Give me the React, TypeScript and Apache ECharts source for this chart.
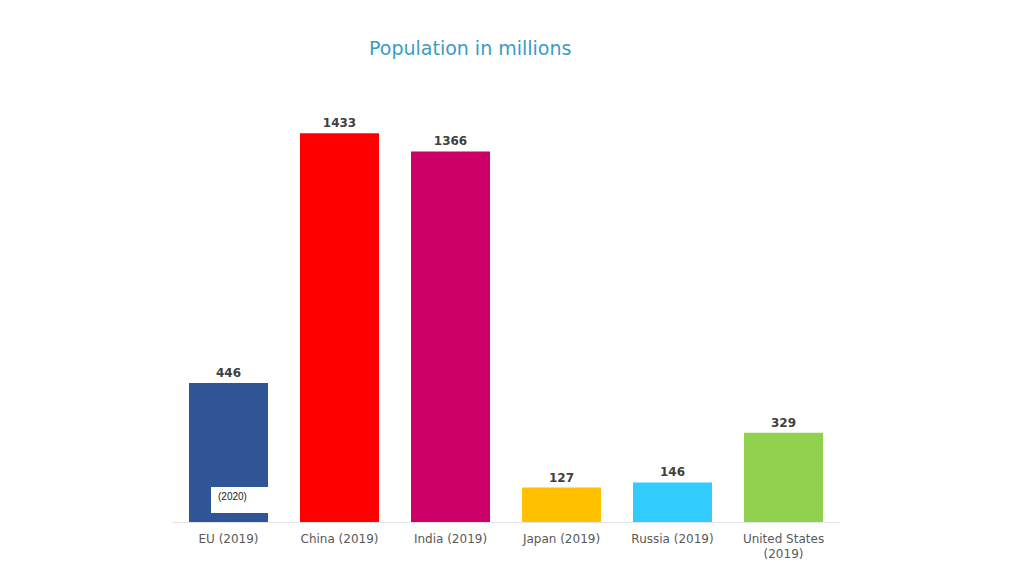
import React, { useEffect, useRef } from "react";
import * as echarts from "echarts";

const categories = ["EU (2019)", "China (2019)", "India (2019)", "Japan (2019)", "Russia (2019)", "United States\n(2019)"];
const barValues = [512, 1433, 1366, 127, 146, 329];
const labelTexts = ["446", "1433", "1366", "127", "146", "329"];
const barColors = ["#2F5597", "#FF0000", "#CC0066", "#FFC000", "#33CCFF", "#92D050"];

export default function App() {
  const ref = useRef<HTMLDivElement>(null);
  useEffect(() => {
    if (!ref.current) return;
    const chart = echarts.init(ref.current, null, { renderer: "svg" });
    const font = "'DejaVu Sans', Verdana, sans-serif";
    chart.setOption({
      animation: false,
      backgroundColor: "#ffffff",
      title: {
        text: "Population in millions",
        left: 364,
        top: 33,
        textStyle: { color: "#3A9CC3", fontSize: 19, fontWeight: "normal", fontFamily: font },
      },
      grid: { left: 173, right: 185, top: 88, bottom: 54 },
      xAxis: {
        type: "category",
        data: categories,
        axisLine: { show: true, lineStyle: { color: "#E3E3E3", width: 1 } },
        axisTick: { show: false },
        axisLabel: { color: "#595959", fontSize: 12, fontFamily: font, margin: 9, lineHeight: 15, interval: 0 },
      },
      yAxis: {
        type: "value",
        min: 0,
        max: 1600,
        show: false,
        splitLine: { show: false },
      },
      series: [
        {
          type: "bar",
          barWidth: 79,
          data: barValues.map((v, i) => ({ value: v, itemStyle: { color: barColors[i] } })),
          label: {
            show: true,
            position: "top",
            distance: 4,
            color: "#404040",
            fontSize: 12,
            fontWeight: "bold",
            fontFamily: font,
            formatter: (p: any) => labelTexts[p.dataIndex],
          },
        },
      ],
      graphic: [
        {
          type: "rect",
          z: 100,
          shape: { x: 211, y: 487, width: 57, height: 26 },
          style: { fill: "#ffffff" },
        },
        {
          type: "text",
          z: 101,
          x: 218,
          y: 491,
          style: { text: "(2020)", fill: "#222222", fontSize: 10, fontFamily: "Arial, 'Liberation Sans', sans-serif" },
        },
      ],
    });
    return () => chart.dispose();
  }, []);
  return <div ref={ref} style={{ position: "fixed", left: 0, top: 0, width: 1024, height: 576 }} />;
}
